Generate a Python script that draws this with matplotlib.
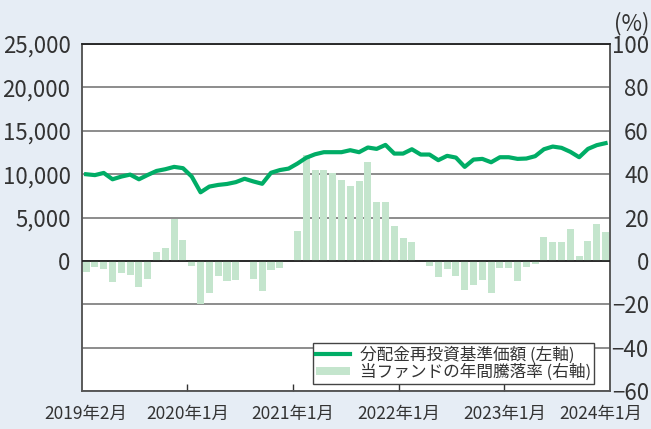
import matplotlib
matplotlib.use("Agg")
import matplotlib.pyplot as plt
from matplotlib import font_manager
import numpy as np

plt.rcParams['font.family'] = ['Noto Sans CJK JP', 'DejaVu Sans']

# monthly data, 2019-02 .. 2024-01
nav = [10000, 9900, 10150, 9420, 9730, 9960, 9420, 9920, 10380, 10580,
       10850, 10700, 9730, 7920, 8580, 8770, 8880, 9090, 9480, 9170,
       8900, 10170, 10480, 10650, 11230, 11900, 12300, 12540, 12540, 12540,
       12770, 12540, 13080, 12920, 13380, 12380, 12380, 12880, 12270, 12270,
       11620, 12120, 11920, 10850, 11690, 11770, 11380, 11960, 11960, 11770,
       11810, 12080, 12880, 13190, 13040, 12580, 11960, 12920, 13350, 13580]
yoy = [-4.9, -2.8, -3.7, -9.7, -5.5, -6.5, -12.0, -8.3, 4.2, 6.0,
       19.4, 9.7, -2.3, -20.0, -14.6, -6.8, -9.1, -8.6, 0.0, -8.2,
       -13.7, -4.0, -3.1, 0.0, 13.8, 49.0, 42.0, 42.0, 40.6, 37.4,
       34.6, 36.9, 45.7, 27.2, 27.2, 16.2, 10.6, 8.8, 0.0, -2.2,
       -7.2, -3.5, -6.8, -13.2, -11.0, -8.7, -14.8, -3.1, -3.1, -9.2,
       -2.7, -1.3, 11.2, 8.9, 8.9, 15.0, 2.3, 9.4, 17.3, 13.6]
year_labels = ['2020年1月', '2021年1月', '2022年1月', '2023年1月']
end_labels = ['2019年2月', '2024年1月']
line_name = '分配金再投資基準価額 (左軸)'
bar_name = '当ファンドの年間騰落率 (右軸)'

bg = '#e6edf5'
green = '#00ad66'
light = '#c4e5cd'
txt = '#333333'

# narrow font for the date labels if there is one
names = {f.name for f in font_manager.fontManager.ttflist}
date_family = ['Noto Sans CJK JP']
if 'Liberation Sans Narrow' in names:
    date_family = ['Liberation Sans Narrow', 'Noto Sans CJK JP']
date_size = 14 if len(date_family) > 1 else 12.5

x = np.arange(len(nav))

fig = plt.figure(figsize=(6.51, 4.29), dpi=100, facecolor=bg)
ax = fig.add_axes([0.1255, 0.0879, 0.937 - 0.1255, 0.8974 - 0.0879])
ax2 = ax.twinx()

# bars on the right axis, behind the line
ax2.bar(x, yoy, width=0.8, color=light, zorder=2, label=bar_name)
ax2.set_ylim(-60, 100)
ax2.set_yticks(np.arange(-60, 101, 20))
ax2.yaxis.grid(True, color='#6e6e6e', linewidth=1.1, zorder=0)
ax2.set_axisbelow(True)
ax2.patch.set_visible(True)
ax2.patch.set_facecolor('white')

ax.set_zorder(ax2.get_zorder() + 1)
ax.patch.set_visible(False)
ax.axhline(0, color='#1a1a1a', linewidth=1.2, zorder=3)
ax.plot(x, nav, color=green, linewidth=3, zorder=4, label=line_name,
        solid_joinstyle='round')
ax.set_ylim(-15000, 25000)
ax.set_yticks(np.arange(0, 25001, 5000))
ax.set_yticklabels(['{:,}'.format(v) for v in range(0, 25001, 5000)])
ax.set_xlim(-0.5, 59.5)

ax.set_xticks([11.5, 23.5, 35.5, 47.5])
ax.set_xticklabels(year_labels)
ax.set_xticks([0, 58.4], minor=True)
ax.set_xticklabels(end_labels, minor=True)
for lab in ax.get_xticklabels(which='both'):
    lab.set_family(date_family)
ax.tick_params(axis='x', which='major', direction='in', length=5, width=1,
               color='#333333', labelsize=date_size, labelcolor=txt, pad=10)
ax.tick_params(axis='x', which='minor', length=0, labelsize=date_size,
               labelcolor=txt, pad=10)
ax.tick_params(axis='y', length=0, labelsize=16, labelcolor=txt, pad=8)
ax2.tick_params(axis='y', length=0, labelsize=16, labelcolor=txt, pad=28)
for lab in ax2.get_yticklabels():
    lab.set_horizontalalignment('right')

for a in (ax, ax2):
    for s in a.spines.values():
        s.set_color('#555555')
        s.set_linewidth(1.1)
ax.spines['top'].set_color('#1a1a1a')

fig.text(649 / 651, 1 - 24 / 429, '(%)', ha='right', va='center',
         fontsize=16, color=txt)

h1, l1 = ax.get_legend_handles_labels()
h2, l2 = ax2.get_legend_handles_labels()
leg = ax.legend(h1 + h2, l1 + l2, loc='lower right',
                bbox_to_anchor=(0.970, 0.021), borderaxespad=0,
                fontsize=12, frameon=True, fancybox=False,
                edgecolor='#444444', facecolor='white', framealpha=1,
                handlelength=2.0, handleheight=0.35, handletextpad=0.6,
                labelspacing=0.0, borderpad=0.2)
leg.get_frame().set_linewidth(1.0)
for t in leg.get_texts():
    t.set_color(txt)

fig.savefig('out.png', dpi=100, facecolor=bg)
